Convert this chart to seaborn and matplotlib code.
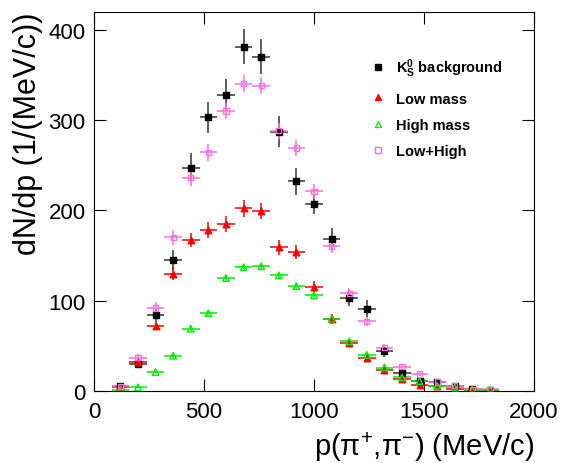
import matplotlib
matplotlib.use("Agg")
import matplotlib.pyplot as plt
from matplotlib.lines import Line2D
import pandas as pd
import seaborn as sns

# ── Data ─────────────────────────────────────────────────────────────────────
p_mom = [120, 200, 280, 360, 440, 520, 600, 680, 760, 840, 920,
         1000, 1080, 1160, 1240, 1320, 1400, 1480, 1560, 1640, 1720, 1800]
bin_halfwidth = 40

ks_bkg = [5, 30, 84, 145, 247, 303, 328, 381, 370, 287, 232,
          207, 168, 103, 91, 44, 20, 11, 10, 5, 2, 1.5]
ks_err = [2, 5, 7, 11.5, 16, 17, 17.5, 19.5, 19.5, 17, 15,
          11, 12, 8.5, 9.5, 6, 4, 3, 3, 2, 1.5, 1]

low_mass = [4, 32, 72, 130, 167, 178, 185, 202, 199, 159, 154,
            115, 80, 53, 36, 23, 13, 7, 5, 2, 1, 1]
low_err = [1.5, 3, 5, 7, 8, 8.5, 8.5, 9, 9, 8, 7.5,
           6.5, 5.5, 4.5, 3.5, 3, 2, 1.5, 1.5, 1, 0.5, 0.5]

high_mass = [1.5, 4, 21, 39, 69, 86, 125, 137, 138, 128, 116,
             106, 80, 55, 40, 26, 15, 11, 6, 4, 1.5, 1.5]
high_err = [0.5, 1, 1.5, 2, 2.5, 2.5, 3, 3, 3, 3, 3,
            2.5, 2.5, 2, 2, 1.5, 1, 1, 0.5, 0.5, 0.5, 0.5]

low_high = [5, 37, 92, 170, 236, 264, 310, 340, 338, 288, 269,
            221, 160, 108, 77, 48, 27, 19, 10, 6, 2, 2]
low_high_err = [1.5, 4, 6, 8, 9, 9, 9, 9.5, 9.5, 9, 8.5,
                8, 7, 6, 5, 4, 3, 2.5, 2, 1.5, 1, 1]

x_ticks = [0, 500, 1000, 1500, 2000]
y_ticks = [0, 100, 200, 300, 400]

# ── Style ────────────────────────────────────────────────────────────────────
sns.set_style("ticks")
plt.rcParams['font.family'] = ['Liberation Sans', 'DejaVu Sans']
plt.rcParams['mathtext.fontset'] = 'custom'
plt.rcParams['mathtext.rm'] = 'Liberation Sans'
plt.rcParams['mathtext.it'] = 'Liberation Sans:italic'
plt.rcParams['mathtext.bf'] = 'Liberation Sans:bold'
plt.rcParams['text.color'] = 'black'
plt.rcParams['axes.labelcolor'] = 'black'
plt.rcParams['xtick.color'] = 'black'
plt.rcParams['ytick.color'] = 'black'

series = [
    # label, values, errors, marker, colour, filled
    (r"$\mathbf{K^0_S}$ background", ks_bkg, ks_err, 's', 'black', True),
    ("Low mass", low_mass, low_err, '^', '#ff0000', True),
    ("High mass", high_mass, high_err, '^', '#00ee00', False),
    ("Low+High", low_high, low_high_err, 's', '#ff70dd', False),
]

fig = plt.figure(figsize=(5.66, 4.64), dpi=100)
ax = fig.add_axes([94 / 566, 1 - 392 / 464, 440 / 566, 379.5 / 464])

handles = []
for label, vals, errs, mk, col, filled in series:
    df = pd.DataFrame({"p": p_mom, "n": vals})
    ax.errorbar(df["p"], df["n"], xerr=bin_halfwidth, yerr=errs, fmt='none',
                ecolor=col, elinewidth=1.1, capsize=0, alpha=0.8 if col == 'black' else 1)
    sns.scatterplot(data=df, x="p", y="n", ax=ax, marker=mk, s=15 if mk == 's' else 22,
                    color=col, facecolor=col if filled else 'none',
                    edgecolor=col, linewidth=1.0, zorder=3, legend=False)
    handles.append(Line2D([], [], linestyle='none', marker=mk, markersize=4.5,
                          markerfacecolor=col if filled else 'none',
                          markeredgecolor=col, markeredgewidth=1.0, label=label))

ax.set_xlim(0, 2000)
ax.set_ylim(0, 420)
ax.set_xticks(x_ticks)
ax.set_yticks(y_ticks)
ax.tick_params(direction='in', length=8.6, width=0.8, top=True, right=True,
               labelsize=16, pad=6)
ax.tick_params(axis='x', pad=7)
for sp in ax.spines.values():
    sp.set_linewidth(0.8)
    sp.set_color('black')

ax.set_xlabel(r"p($\mathrm{\pi^{+}}$,$\mathrm{\pi^{-}}$) (MeV/c)", fontsize=21, ha='right')
ax.xaxis.set_label_coords(1.0, -0.1)
ax.set_ylabel("dN/dp (1/(MeV/c))", fontsize=22, ha='right')
ax.yaxis.set_label_coords(-0.115, 1.0)

leg = ax.legend(handles=handles, loc='upper left', bbox_to_anchor=(0.628, 0.881),
                frameon=False, handlelength=1.0, handletextpad=0.73,
                labelspacing=0.84, borderpad=0, borderaxespad=0,
                prop={'weight': 'bold', 'size': 10.5})

fig.savefig("out.png", dpi=100)
plt.close(fig)
print("out.png")
